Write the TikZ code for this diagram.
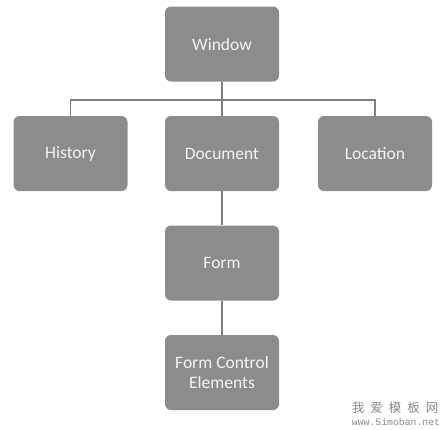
\documentclass[tikz,border=0pt]{standalone}
\usepackage{fontspec}
\setmainfont{Carlito}
\newfontfamily\cjk{Noto Sans CJK SC}
\newfontfamily\wmmono{Liberation Mono}
\definecolor{boxgray}{HTML}{8C8C8C}
\definecolor{linegray}{HTML}{7F7F7F}
\definecolor{txtgray}{HTML}{F4F4F4}
\definecolor{wmgray}{HTML}{8A8A8A}
\begin{document}
\begin{tikzpicture}[x=1pt,y=-1pt,
  box/.style={rectangle,rounded corners=6pt,fill=boxgray,minimum width=114pt,minimum height=75pt,
    text=txtgray,font=\fontsize{17.5}{20}\selectfont,align=center,inner sep=2pt},
  conn/.style={draw=linegray,line width=1.5pt},
  wm/.style={text=wmgray,inner sep=0pt}]
\useasboundingbox (0,0) rectangle (446,429);
\node[box] (Window) at (222,44) {Window};
\node[box] (History) at (70.5,153.5) {History};
\node[box] (Document) at (222,153.5) {Document};
\node[box] (Location) at (375,153.5) {Location};
\node[box] (Form) at (222,263) {Form};
\node[box] (FCE) at (222,372.5) {Form Control\\Elements};
\coordinate (bus) at (222,100);
\draw[conn] (Window.south) -- (Document.north);
\draw[conn] (History.north) |- (bus) -| (Location.north);
\draw[conn] (Document.south) -- (Form.north);
\draw[conn] (Form.south) -- (FCE.north);
\node[wm,font=\cjk\fontsize{12.5}{13}\selectfont] (wm1) at (395,408) {我\hspace{6pt}爱\hspace{6pt}模\hspace{6pt}板\hspace{6pt}网};
\node[wm,font=\wmmono\fontsize{9.8}{11}\selectfont] (wm2) at (396,422) {www.5imoban.net};
\end{tikzpicture}
\end{document}
